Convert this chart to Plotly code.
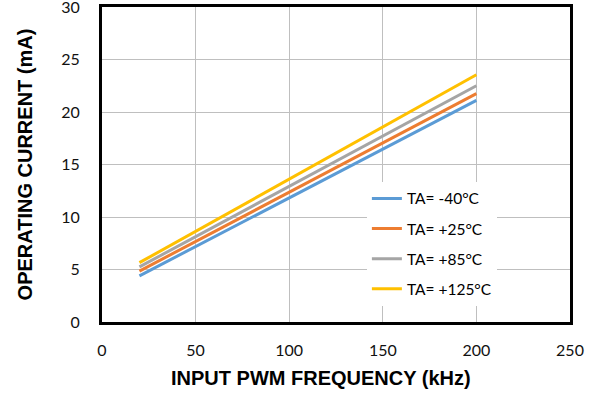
import plotly.graph_objects as go

freq = [20, 200]
series_names = ["TA= -40°C", "TA= +25°C", "TA= +85°C", "TA= +125°C"]
series_values = [
    [4.4, 21.1],
    [4.85, 21.75],
    [5.25, 22.5],
    [5.65, 23.55],
]
colors = ["#5B9BD5", "#ED7D31", "#A5A5A5", "#FFC000"]
x_ticks = [0, 50, 100, 150, 200, 250]
y_ticks = [0, 5, 10, 15, 20, 25, 30]
x_title = "INPUT PWM FREQUENCY (kHz)"
y_title = "OPERATING CURRENT (mA)"

fig = go.Figure()
for i, (name, vals, c) in enumerate(zip(series_names, series_values, colors)):
    fig.add_trace(go.Scatter(
        x=freq, y=vals, mode="lines", name=name,
        line=dict(color=c, width=3), legendgroup=f"g{i}",
    ))

fig.add_annotation(
    text=f"<b>{x_title}</b>", xref="paper", yref="paper",
    x=0.468, y=-0.178, xanchor="center", yanchor="middle", showarrow=False,
    font=dict(family="Liberation Sans", size=20, color="#000000"),
)

fig.update_layout(
    width=596, height=395,
    margin=dict(l=102, r=26, t=7, b=73, autoexpand=False),
    paper_bgcolor="white", plot_bgcolor="white",
    font=dict(family="Lato", size=16, color="#111111"),
    showlegend=True,
    legend=dict(
        x=0.566, y=0.445, xanchor="left", yanchor="top",
        bgcolor="white", font=dict(family="Lato", size=15.5, color="#000000"),
        tracegroupgap=7, itemwidth=30,
    ),
    xaxis=dict(
        range=[0, 250], tickvals=x_ticks, automargin=False,
        showgrid=True, gridcolor="#BFBFBF", gridwidth=1,
        showline=True, linecolor="black", linewidth=3, mirror=True,
        zeroline=False, ticks="outside", ticklen=12, tickcolor="rgba(0,0,0,0)",
        ticklabeloverflow="allow",
    ),
    yaxis=dict(
        range=[0, 30], tickvals=y_ticks, automargin=False,
        showgrid=True, gridcolor="#BFBFBF", gridwidth=1,
        showline=True, linecolor="black", linewidth=3, mirror=True,
        zeroline=False, ticks="outside", ticklen=16, tickcolor="rgba(0,0,0,0)",
        ticklabeloverflow="allow",
        title=dict(text=f"<b>{y_title}</b>",
                   font=dict(family="Liberation Sans", size=20, color="#000000"),
                   standoff=24),
    ),
)

fig.write_html("out.html")
